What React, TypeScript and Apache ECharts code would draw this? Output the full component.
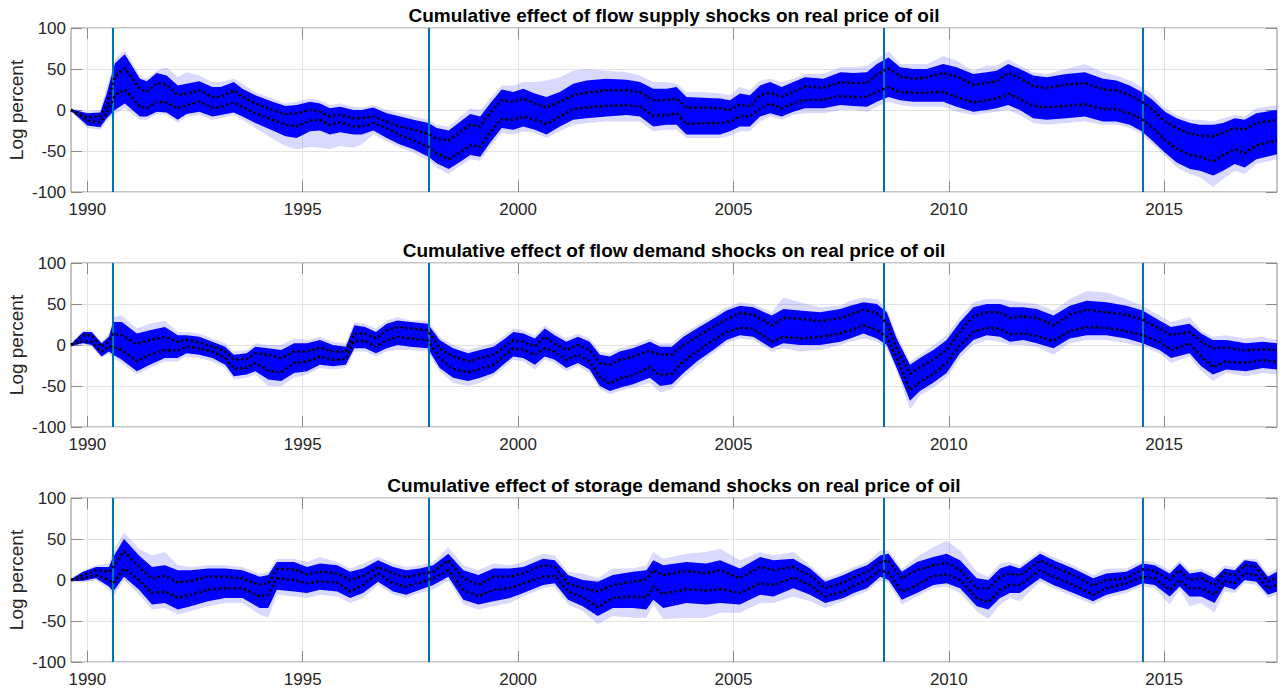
import React, { useEffect, useRef } from "react";
import * as echarts from "echarts";

// ---------- shared axis values ----------
const xTickYears = [1990, 1995, 2000, 2005, 2010, 2015];
const xMin = 1989.62;
const xMax = 2017.62;
const eventYears = [1990.59, 1997.93, 2008.5, 2014.5];
const titles = [
  "Cumulative effect of flow supply shocks on real price of oil",
  "Cumulative effect of flow demand shocks on real price of oil",
  "Cumulative effect of storage demand shocks on real price of oil",
];

// ---------- panel 1: flow supply ----------
const years1 = [1989.62, 1990.0, 1990.3, 1990.45, 1990.64, 1990.87, 1991.22, 1991.38, 1991.61, 1991.84, 1992.1, 1992.3, 1992.6, 1992.9, 1993.1, 1993.4, 1993.6, 1993.9, 1994.3, 1994.6, 1994.86, 1995.17, 1995.4, 1995.63, 1995.87, 1996.18, 1996.37, 1996.64, 1996.95, 1997.26, 1997.57, 1997.92, 1998.11, 1998.39, 1998.66, 1998.89, 1999.12, 1999.35, 1999.62, 1999.89, 2000.12, 2000.39, 2000.66, 2000.97, 2001.28, 2001.59, 2002.05, 2002.52, 2002.83, 2003.14, 2003.45, 2003.68, 2003.91, 2004.3, 2004.69, 2004.92, 2005.15, 2005.38, 2005.62, 2005.85, 2006.12, 2006.39, 2006.66, 2007.09, 2007.48, 2007.79, 2008.1, 2008.33, 2008.6, 2008.87, 2009.18, 2009.49, 2009.87, 2010.18, 2010.57, 2010.88, 2011.11, 2011.38, 2011.65, 2011.96, 2012.27, 2012.73, 2013.16, 2013.58, 2013.89, 2014.2, 2014.48, 2014.74, 2015.02, 2015.29, 2015.6, 2015.83, 2016.14, 2016.37, 2016.64, 2016.87, 2017.14, 2017.62];
const upper1 = [0, -9, -8, 5, 41, 51, 26, 22, 33, 31, 18, 20, 24, 16, 16, 24, 16, 8, 0, -5, -4, 0, -2, -8, -6, -10, -10, -8, -14, -20, -24, -29, -35, -37, -27, -18, -20, -4, 12, 10, 14, 8, 3, 10, 18, 21, 24, 24, 22, 12, 12, 14, 3, 3, 2, 0, 7, 4, 18, 21, 16, 22, 29, 27, 34, 33, 33, 43, 51, 41, 38, 40, 45, 41, 31, 33, 35, 45, 39, 29, 27, 31, 33, 25, 24, 18, 10, 0, -14, -22, -29, -31, -32, -28, -22, -24, -16, -12];
const lower1 = [0, -13, -15, -4, 18, 25, 4, 2, 10, 9, 2, 6, 10, 3, 4, 9, 4, -4, -12, -18, -20, -13, -12, -18, -15, -20, -20, -16, -22, -31, -37, -45, -53, -60, -51, -43, -45, -27, -11, -12, -8, -12, -17, -8, 1, 3, 5, 6, 4, -7, -6, -4, -17, -16, -16, -14, -8, -8, 2, 8, 2, 8, 12, 13, 17, 16, 16, 22, 28, 22, 21, 21, 22, 16, 9, 12, 14, 20, 14, 5, 3, 5, 7, 1, 1, -4, -11, -22, -37, -47, -55, -57, -63, -55, -48, -53, -43, -37];
const bandHi1 = [1, -4, -3, 20, 57, 68, 38, 35, 45, 42, 30, 32, 35, 28, 28, 34, 26, 18, 10, 5, 6, 10, 8, 2, 4, 0, 0, 3, -4, -8, -12, -16, -22, -25, -14, -5, -8, 8, 25, 22, 26, 20, 16, 22, 32, 36, 38, 37, 34, 26, 26, 28, 16, 15, 14, 12, 20, 18, 30, 34, 28, 34, 40, 38, 46, 45, 46, 56, 64, 52, 50, 50, 56, 52, 44, 46, 48, 56, 50, 42, 40, 44, 46, 38, 36, 30, 22, 12, -2, -10, -16, -18, -18, -16, -10, -12, -4, 0];
const bandLo1 = [-1, -19, -21, -10, 0, 8, -8, -8, -2, -3, -12, -5, -2, -8, -6, -3, -8, -16, -25, -32, -34, -26, -25, -30, -27, -30, -30, -25, -34, -42, -48, -57, -65, -72, -63, -55, -57, -40, -22, -24, -20, -24, -30, -20, -12, -10, -8, -6, -8, -20, -18, -18, -30, -30, -30, -26, -20, -20, -8, -4, -8, -2, 2, 2, 6, 5, 4, 10, 16, 12, 10, 10, 10, 4, -2, 0, 2, 6, 0, -10, -12, -10, -8, -14, -14, -18, -26, -38, -52, -64, -72, -74, -80, -74, -66, -70, -60, -54];
const outerHi1 = [2, -2, 0, 28, 62, 73, 42, 38, 48, 52, 40, 46, 42, 34, 34, 38, 32, 22, 14, 8, 10, 14, 12, 6, 8, 4, 3, 6, 0, -4, -8, -12, -18, -20, -8, 2, 0, 14, 30, 30, 34, 34, 36, 40, 48, 50, 48, 46, 42, 34, 34, 32, 22, 22, 20, 18, 28, 24, 36, 38, 34, 38, 44, 44, 52, 52, 54, 62, 72, 56, 56, 56, 66, 60, 48, 54, 54, 62, 54, 46, 44, 50, 56, 46, 42, 36, 28, 18, 2, -6, -12, -12, -14, -10, -6, -8, 2, 6];
const outerLo1 = [-2, -22, -24, -14, -5, 2, -12, -12, -5, -6, -16, -8, -6, -12, -10, -6, -12, -22, -35, -44, -48, -45, -46, -48, -44, -46, -42, -30, -38, -46, -52, -62, -70, -78, -68, -60, -62, -45, -28, -30, -26, -28, -34, -26, -18, -16, -14, -14, -14, -26, -24, -24, -34, -34, -34, -32, -26, -26, -14, -8, -12, -6, -4, -4, 0, 0, -2, 4, 10, 6, 4, 4, 4, -2, -6, -4, -2, 0, -6, -16, -18, -16, -14, -18, -18, -22, -30, -42, -56, -70, -78, -82, -94, -84, -74, -78, -66, -60];

// ---------- panel 2: flow demand ----------
const years2 = [1989.62, 1989.9, 1990.1, 1990.33, 1990.5, 1990.6, 1990.8, 1991.15, 1991.45, 1991.8, 1992.1, 1992.3, 1992.6, 1992.9, 1993.2, 1993.4, 1993.7, 1993.9, 1994.2, 1994.5, 1994.8, 1995.1, 1995.4, 1995.7, 1996.0, 1996.2, 1996.45, 1996.7, 1996.95, 1997.2, 1997.5, 1997.9, 1998.18, 1998.49, 1998.84, 1999.12, 1999.43, 1999.7, 1999.89, 2000.12, 2000.39, 2000.62, 2000.85, 2001.12, 2001.39, 2001.66, 2001.9, 2002.13, 2002.36, 2002.67, 2003.06, 2003.3, 2003.57, 2003.84, 2004.15, 2004.53, 2004.84, 2005.15, 2005.46, 2005.89, 2006.16, 2006.54, 2007.01, 2007.48, 2007.71, 2008.02, 2008.33, 2008.56, 2008.79, 2009.1, 2009.33, 2009.64, 2009.95, 2010.26, 2010.57, 2010.88, 2011.19, 2011.42, 2011.73, 2012.04, 2012.43, 2012.81, 2013.2, 2013.66, 2014.12, 2014.5, 2014.89, 2015.16, 2015.59, 2015.86, 2016.13, 2016.44, 2016.9, 2017.29, 2017.62];
const upper2 = [0, 12, 12, -2, 4, 14, 12, 1, 6, 10, 4, 6, 3, -2, -8, -18, -17, -10, -12, -16, -8, -8, -3, -8, -8, 14, 14, 8, 18, 22, 20, 18, -4, -14, -20, -16, -12, -2, 6, 4, -2, 10, 2, -6, 0, -6, -22, -24, -18, -14, -7, -12, -12, 0, 10, 22, 31, 39, 37, 24, 33, 32, 29, 33, 37, 43, 39, 27, -4, -35, -27, -18, -6, 16, 35, 40, 40, 33, 35, 33, 24, 37, 43, 40, 37, 31, 20, 12, 16, 4, -4, -3, -7, -5, -6];
const lower2 = [0, 5, 4, -8, -2, -2, -6, -20, -12, -6, -7, -2, -4, -8, -16, -29, -28, -22, -31, -33, -22, -20, -14, -18, -17, 5, 5, -2, 6, 10, 8, 6, -16, -29, -33, -29, -24, -12, -4, -6, -12, -4, -8, -18, -12, -20, -39, -47, -41, -37, -27, -37, -35, -20, -8, 6, 16, 21, 20, 4, 10, 8, 10, 14, 18, 24, 18, 10, -16, -55, -45, -35, -22, 0, 16, 21, 20, 13, 14, 11, 5, 17, 22, 21, 17, 12, 4, -6, 2, -14, -27, -20, -22, -18, -21];
const bandHi2 = [1, 16, 16, 2, 10, 28, 28, 14, 18, 22, 12, 12, 10, 4, -2, -12, -10, -2, -4, -6, 2, 2, 6, 0, -2, 24, 22, 16, 26, 30, 28, 26, 6, -4, -10, -6, -2, 8, 16, 14, 8, 20, 12, 4, 10, 4, -12, -14, -8, -4, 4, -2, -2, 10, 20, 32, 42, 48, 46, 36, 44, 42, 40, 44, 48, 52, 50, 40, 8, -24, -16, -6, 6, 28, 46, 50, 50, 46, 46, 44, 36, 48, 54, 52, 48, 42, 30, 22, 26, 14, 6, 6, 2, 4, 2];
const bandLo2 = [-1, 2, 0, -14, -8, -12, -18, -32, -24, -16, -16, -10, -12, -16, -24, -38, -36, -32, -42, -44, -34, -32, -24, -26, -24, -4, -4, -10, -4, 0, -2, -4, -28, -40, -44, -40, -34, -22, -14, -16, -24, -14, -18, -28, -22, -30, -50, -56, -52, -48, -40, -50, -48, -34, -20, -6, 6, 12, 10, -4, 2, 0, 0, 4, 8, 14, 8, 0, -28, -68, -56, -46, -34, -10, 6, 12, 10, 4, 6, 2, -4, 8, 12, 12, 8, 2, -6, -16, -10, -26, -36, -30, -32, -28, -30];
const outerHi2 = [2, 18, 18, 4, 14, 34, 36, 20, 26, 30, 16, 16, 14, 8, 2, -8, -6, 2, 0, 0, 8, 6, 10, 4, 2, 28, 26, 20, 30, 34, 30, 30, 10, 0, -6, -2, 2, 12, 20, 18, 12, 24, 16, 8, 14, 8, -8, -10, -4, 0, 8, 2, 2, 14, 24, 36, 46, 52, 50, 40, 58, 52, 46, 48, 54, 58, 56, 44, 12, -20, -12, 0, 12, 34, 52, 56, 56, 54, 52, 50, 42, 56, 66, 64, 56, 48, 36, 28, 34, 18, 10, 12, 8, 10, 6];
const outerLo2 = [-2, 0, -2, -16, -10, -16, -22, -36, -28, -20, -20, -14, -16, -20, -28, -42, -40, -36, -50, -50, -40, -36, -28, -30, -28, -8, -8, -14, -8, -6, -6, -8, -32, -46, -50, -46, -38, -26, -18, -20, -30, -18, -22, -32, -26, -34, -54, -60, -56, -52, -46, -58, -54, -40, -26, -10, 2, 8, 6, -8, -4, -8, -6, 0, 4, 8, 4, -4, -32, -78, -62, -52, -40, -16, 0, 6, 4, 0, 0, -2, -12, 2, 6, 6, 2, -2, -10, -22, -14, -32, -44, -34, -38, -34, -36];

// ---------- panel 3: storage demand ----------
const years3 = [1989.62, 1989.9, 1990.2, 1990.5, 1990.6, 1990.85, 1991.2, 1991.5, 1991.8, 1992.1, 1992.4, 1992.8, 1993.2, 1993.6, 1994.0, 1994.2, 1994.4, 1994.8, 1995.1, 1995.4, 1995.8, 1996.1, 1996.4, 1996.75, 1997.1, 1997.4, 1997.72, 1998.03, 1998.38, 1998.73, 1999.08, 1999.43, 1999.81, 2000.12, 2000.58, 2000.85, 2001.16, 2001.5, 2001.85, 2002.2, 2002.67, 2002.98, 2003.14, 2003.37, 2003.91, 2004.37, 2004.69, 2005.15, 2005.62, 2005.93, 2006.39, 2006.78, 2007.13, 2007.56, 2007.79, 2008.1, 2008.41, 2008.6, 2008.91, 2009.26, 2009.64, 2009.95, 2010.26, 2010.65, 2010.92, 2011.19, 2011.42, 2011.65, 2012.12, 2012.43, 2012.89, 2013.35, 2013.66, 2014.12, 2014.5, 2014.78, 2015.13, 2015.36, 2015.59, 2015.86, 2016.17, 2016.4, 2016.64, 2016.87, 2017.14, 2017.41, 2017.62];
const upper3 = [0, 6, 12, 10, 16, 35, 16, 2, 5, -3, -1, 4, 4, 2, -6, -4, 13, 13, 7, 10, 8, 0, 5, 16, 8, 3, 7, 10, 24, 2, -6, 4, 4, 8, 18, 16, -4, -10, -14, -6, -2, 1, 12, 6, 11, 8, 12, 2, 16, 12, 16, 5, -10, -3, 3, 10, 22, 24, 2, 12, 18, 21, 12, -10, -10, 4, 8, 5, 24, 16, 6, -7, 0, 2, 13, 11, 0, 12, 0, 2, -6, 8, 6, 18, 16, -2, 3];
const lower3 = [0, 2, 6, 0, -4, 14, 0, -16, -14, -22, -18, -12, -10, -10, -20, -18, 2, 0, -4, -2, -3, -14, -6, 8, -4, -8, -3, 2, 12, -12, -20, -12, -10, -4, 4, 5, -14, -21, -33, -22, -20, -21, -8, -17, -11, -13, -11, -16, -4, -6, 3, -6, -20, -14, -7, 0, 12, 9, -14, -6, 5, 7, 0, -22, -27, -12, -6, -6, 12, 4, -6, -18, -10, -4, 4, 2, -12, 0, -10, -10, -18, -1, -4, 8, 6, -10, -6];
const bandHi3 = [1, 10, 16, 16, 28, 50, 30, 16, 18, 12, 12, 14, 14, 12, 4, 6, 22, 22, 16, 20, 18, 10, 14, 24, 16, 12, 14, 18, 32, 12, 6, 14, 14, 16, 26, 24, 6, 0, -2, 6, 10, 12, 24, 18, 22, 20, 24, 14, 28, 24, 26, 14, -2, 6, 12, 18, 30, 32, 10, 22, 28, 32, 24, 2, 0, 14, 18, 14, 32, 24, 14, 2, 8, 10, 20, 18, 8, 20, 8, 10, 2, 14, 12, 24, 22, 4, 10];
const bandLo3 = [-1, -1, 2, -8, -14, 4, -12, -30, -28, -36, -32, -26, -22, -22, -34, -34, -12, -14, -16, -12, -14, -22, -16, -2, -14, -18, -12, -6, 4, -24, -30, -26, -22, -16, -6, -4, -24, -32, -44, -34, -34, -36, -24, -34, -28, -30, -28, -30, -18, -20, -10, -18, -28, -22, -16, -10, 4, 0, -24, -16, -6, -4, -10, -32, -36, -22, -16, -16, 2, -6, -16, -26, -18, -12, -4, -6, -20, -8, -20, -20, -28, -8, -12, 0, -2, -18, -14];
const outerHi3 = [2, 12, 18, 20, 36, 58, 38, 30, 34, 18, 16, 18, 18, 16, 8, 10, 26, 26, 22, 28, 22, 14, 20, 28, 20, 16, 18, 22, 40, 18, 12, 20, 18, 22, 32, 30, 10, 8, 2, 14, 14, 18, 34, 26, 32, 34, 38, 24, 34, 30, 34, 18, 2, 10, 16, 22, 36, 36, 14, 28, 40, 48, 36, 10, 4, 20, 22, 18, 36, 28, 18, 6, 14, 14, 24, 22, 12, 24, 12, 14, 6, 18, 16, 26, 26, 8, 14];
const outerLo3 = [-2, -3, 0, -12, -20, 0, -18, -36, -34, -42, -38, -32, -28, -28, -42, -46, -18, -20, -22, -18, -20, -28, -22, -6, -18, -22, -16, -12, 0, -30, -36, -32, -28, -20, -10, -8, -30, -38, -54, -44, -46, -46, -30, -48, -46, -46, -40, -40, -28, -28, -20, -26, -34, -26, -20, -14, 0, -4, -30, -20, -10, -8, -16, -38, -48, -30, -22, -26, -2, -10, -20, -30, -22, -16, -8, -10, -30, -12, -32, -28, -40, -14, -16, -4, -6, -22, -18];

const panels = [
  { years: years1, upper: upper1, lower: lower1, hi: bandHi1, lo: bandLo1, ohi: outerHi1, olo: outerLo1 },
  { years: years2, upper: upper2, lower: lower2, hi: bandHi2, lo: bandLo2, ohi: outerHi2, olo: outerLo2 },
  { years: years3, upper: upper3, lower: lower3, hi: bandHi3, lo: bandLo3, ohi: outerHi3, olo: outerLo3 },
];

const gridTops = [28, 263, 498];
const gridLeft = 71;
const gridWidth = 1206;
const gridHeight = 164;
const frameColor = "#8a8a8a";
const textColor = "#262626";
const font = "Arial, 'Liberation Sans', Helvetica, sans-serif";

function bandSeries(xi: number, yi: number, years: number[], hi: number[], lo: number[], fill: string, z: number) {
  return {
    type: "custom",
    xAxisIndex: xi,
    yAxisIndex: yi,
    silent: true,
    z,
    data: [[years[0], lo[0]]],
    encode: { x: 0, y: 1 },
    renderItem: (_params: any, api: any) => {
      const pts: number[][] = [];
      for (let k = 0; k < years.length; k++) pts.push(api.coord([years[k], hi[k]]));
      for (let k = years.length - 1; k >= 0; k--) pts.push(api.coord([years[k], lo[k]]));
      return {
        type: "polygon",
        shape: { points: pts },
        style: { fill, stroke: "none" },
      };
    },
  };
}

function buildOption() {
  const grid: any[] = [];
  const xAxis: any[] = [];
  const yAxis: any[] = [];
  const series: any[] = [];
  const graphic: any[] = [];

  panels.forEach((p, i) => {
    grid.push({
      left: gridLeft,
      top: gridTops[i],
      width: gridWidth,
      height: gridHeight,
      show: true,
      borderColor: frameColor,
      borderWidth: 1,
      backgroundColor: "#ffffff",
      containLabel: false,
      outerBoundsMode: "none",
    });
    xAxis.push({
      type: "value",
      gridIndex: i,
      min: xMin,
      max: xMax,
      position: "bottom",
      axisLine: { show: false, onZero: false },
      axisTick: { show: true, inside: true, length: 11, customValues: xTickYears, lineStyle: { color: frameColor } },
      axisLabel: { show: true, customValues: xTickYears, margin: 9, color: textColor, fontSize: 17, fontFamily: font, formatter: (v: number) => String(Math.round(v)) },
      splitLine: { show: true, lineStyle: { color: "#e3e3e3", width: 1 } },
    });
    xAxis.push({
      type: "value",
      gridIndex: i,
      min: xMin,
      max: xMax,
      position: "top",
      axisLine: { show: false, onZero: false },
      axisTick: { show: true, inside: true, length: 11, customValues: xTickYears, lineStyle: { color: frameColor } },
      axisLabel: { show: false },
      splitLine: { show: false },
    });
    yAxis.push({
      type: "value",
      gridIndex: i,
      min: -100,
      max: 100,
      interval: 50,
      position: "left",
      name: "Log percent",
      nameLocation: "middle",
      nameGap: 45,
      nameMoveOverlap: false,
      nameTextStyle: { color: textColor, fontSize: 19, fontFamily: font },
      axisLine: { show: false, onZero: false },
      axisTick: { show: true, inside: true, length: 11, lineStyle: { color: frameColor } },
      axisLabel: { show: true, margin: 5, color: textColor, fontSize: 17, fontFamily: font, showMinLabel: true, showMaxLabel: true },
      splitLine: { show: true, lineStyle: { color: "#e3e3e3", width: 1 } },
    });
    yAxis.push({
      type: "value",
      gridIndex: i,
      min: -100,
      max: 100,
      interval: 50,
      position: "right",
      axisLine: { show: false, onZero: false },
      axisTick: { show: true, inside: true, length: 11, lineStyle: { color: frameColor } },
      axisLabel: { show: false },
      splitLine: { show: false },
    });

    const xi = i * 2;
    const yi = i * 2;
    const zip = (ys: number[]) => p.years.map((x, k) => [x, ys[k]]);

    series.push(bandSeries(xi, yi, p.years, p.ohi, p.olo, "rgba(30,30,255,0.17)", 2));
    series.push(bandSeries(xi, yi, p.years, p.hi, p.lo, "#0000ff", 3));
    series.push({
      type: "line", xAxisIndex: xi, yAxisIndex: yi, symbol: "none", silent: true, z: 5,
      data: [],
      markLine: {
        silent: true, symbol: ["none", "none"], label: { show: false },
        lineStyle: { color: "#0072BD", width: 2, type: "solid" },
        data: eventYears.map((y) => ({ xAxis: y })),
      },
    });
    ["upper", "lower"].forEach((k) => {
      series.push({
        type: "line", xAxisIndex: xi, yAxisIndex: yi, symbol: "none", silent: true, z: 6,
        data: zip((p as any)[k]),
        lineStyle: { color: "#000000", width: 2.5, type: [2.5, 2.5] },
      });
    });

    graphic.push({
      type: "text",
      x: gridLeft + gridWidth / 2,
      y: gridTops[i] - 13,
      style: {
        text: titles[i],
        fill: "#000000",
        font: `bold 19px ${font}`,
        textAlign: "center",
        textVerticalAlign: "middle",
      },
    });
  });

  return {
    animation: false,
    backgroundColor: "#ffffff",
    grid,
    xAxis,
    yAxis,
    series,
    graphic,
  };
}

export default function App() {
  const ref = useRef<HTMLDivElement>(null);
  useEffect(() => {
    if (!ref.current) return;
    const chart = echarts.init(ref.current, null, { renderer: "svg" });
    chart.setOption(buildOption() as any);
    return () => chart.dispose();
  }, []);
  return (
    <div
      ref={ref}
      style={{ position: "fixed", left: 0, top: 0, width: 1281, height: 692, background: "#fff" }}
    />
  );
}
